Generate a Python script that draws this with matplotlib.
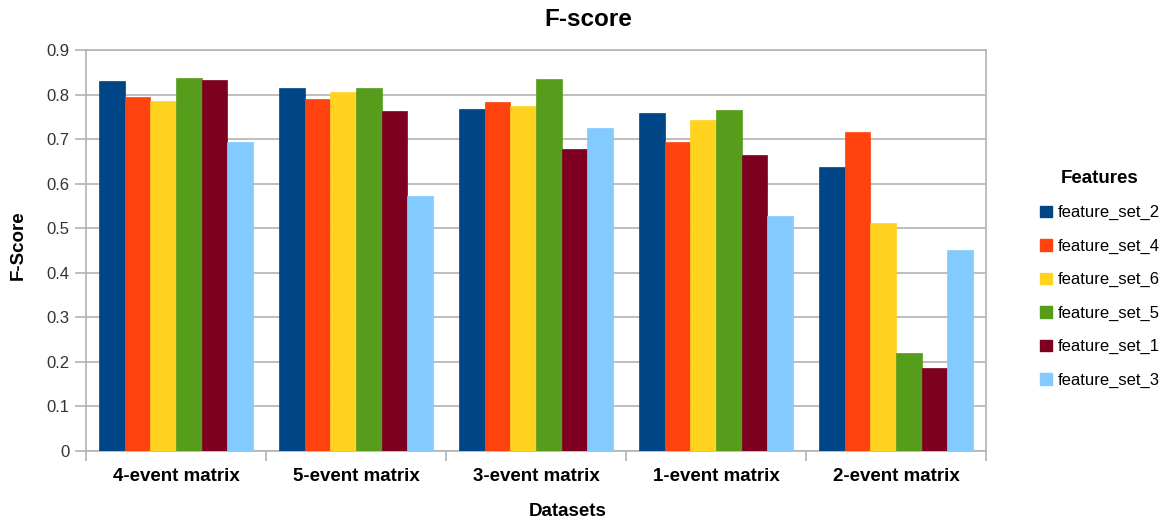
import matplotlib
matplotlib.use("Agg")
import matplotlib.pyplot as plt
from matplotlib.patches import Patch
import numpy as np

plt.rcParams.update({
    "font.family": ["Liberation Sans", "DejaVu Sans"],
    "figure.facecolor": "white",
    "axes.facecolor": "white",
})

datasets = ["4-event matrix", "5-event matrix", "3-event matrix",
            "1-event matrix", "2-event matrix"]
series_names = ["feature_set_2", "feature_set_4", "feature_set_6",
                "feature_set_5", "feature_set_1", "feature_set_3"]
feature_set_2 = [0.830, 0.815, 0.768, 0.759, 0.638]
feature_set_4 = [0.795, 0.791, 0.784, 0.693, 0.717]
feature_set_6 = [0.786, 0.806, 0.775, 0.744, 0.512]
feature_set_5 = [0.837, 0.815, 0.835, 0.766, 0.221]
feature_set_1 = [0.833, 0.764, 0.678, 0.665, 0.187]
feature_set_3 = [0.694, 0.573, 0.726, 0.527, 0.450]
series = [feature_set_2, feature_set_4, feature_set_6,
          feature_set_5, feature_set_1, feature_set_3]
colors = ["#004586", "#ff420e", "#ffd320", "#579d1c", "#7e0021", "#83caff"]
yticks = [0, 0.1, 0.2, 0.3, 0.4, 0.5, 0.6, 0.7, 0.8, 0.9]

W, H = 1171, 523
fig = plt.figure(figsize=(W / 100, H / 100), dpi=100)
ax = fig.add_axes([86 / W, (H - 451) / H, 900 / W, 401 / H])

grid_c = "#b3b3b3"
centers = np.arange(len(datasets)) + 0.5
w = 0.143
for i, (vals, col, name) in enumerate(zip(series, colors, series_names)):
    ax.bar(centers + (i - 2.5) * w, vals, w, color=col, label=name,
           edgecolor=col, linewidth=0.5, zorder=3)

ax.set_xlim(0, len(datasets))
ax.set_ylim(0, 0.9)
ax.set_yticks(yticks)
ax.set_yticklabels(["0"] + [f"{v:.1f}" for v in yticks[1:]],
                   fontsize=12, color="#333333")
ax.yaxis.grid(True, color=grid_c, linewidth=1.2, zorder=0)
ax.set_axisbelow(True)

ax.set_xticks(centers)
ax.set_xticklabels(datasets, fontsize=13.5, fontweight="bold")
ax.set_xticks(np.arange(len(datasets) + 1), minor=True)
ax.tick_params(axis="x", which="major", length=0, pad=12)
ax.tick_params(axis="x", which="minor", length=7, color=grid_c, width=1.2)
ax.tick_params(axis="y", length=8, color=grid_c, width=1.2, pad=4)
for s in ax.spines.values():
    s.set_color(grid_c)
    s.set_linewidth(1.2)

fig.text(588 / W, 1 - 20 / H, "F-score", fontsize=17.5, fontweight="bold",
         ha="center", va="center")
fig.text(568 / W, 1 - 512 / H, "Datasets", fontsize=13.5, fontweight="bold",
         ha="center", va="center")
fig.text(18 / W, 1 - 245 / H, "F-Score", fontsize=13.5, fontweight="bold",
         ha="center", va="center", rotation=90)

handles = [Patch(facecolor=c, edgecolor=c) for c in colors]
leg = fig.legend(handles, series_names, title="Features", frameon=False,
                 loc="upper left", bbox_to_anchor=(1025 / W, 1 - 155 / H),
                 fontsize=12, handlelength=0.7, handleheight=0.7,
                 handletextpad=0.35, labelspacing=1.1)
leg.get_title().set_fontsize(13.5)
leg.get_title().set_fontweight("bold")

fig.savefig("out.png", dpi=100)
